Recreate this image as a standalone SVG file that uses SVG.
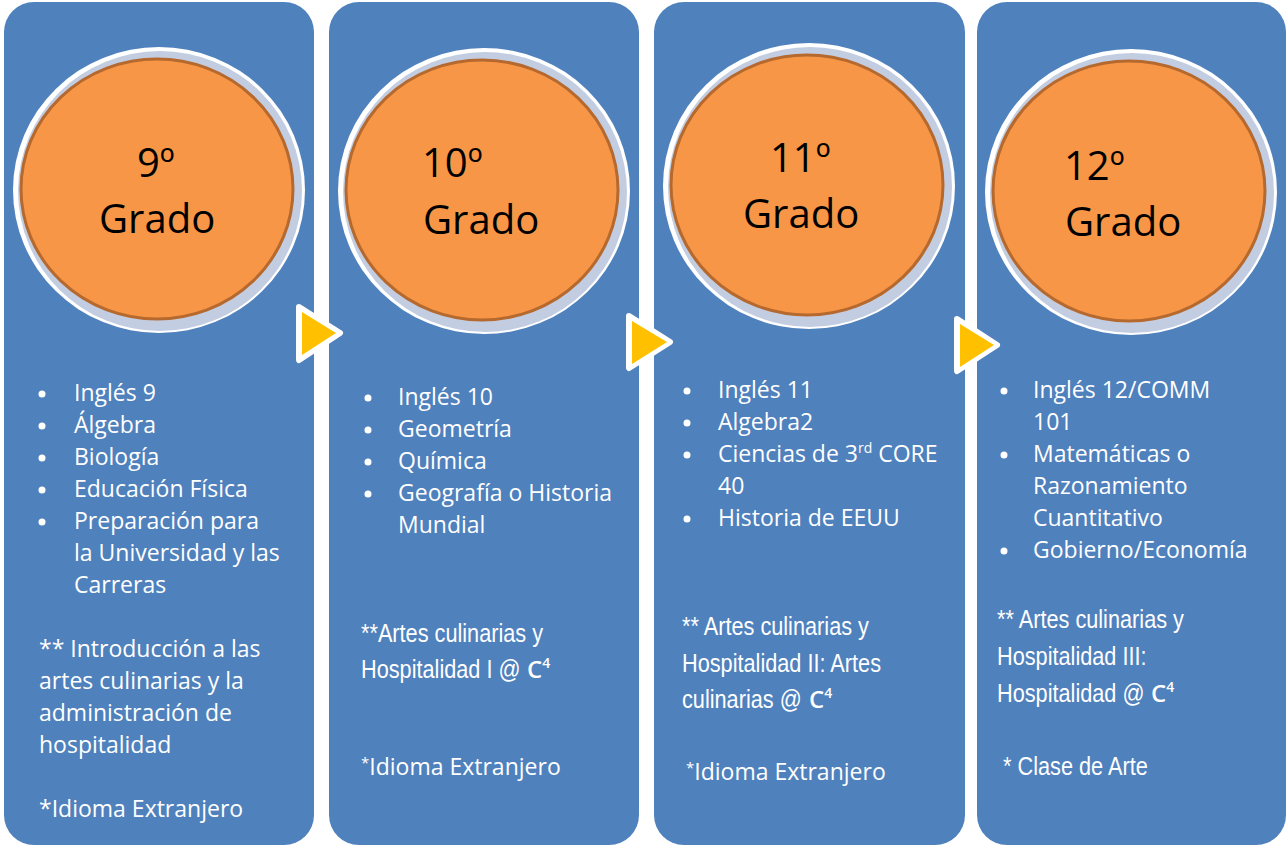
<svg xmlns="http://www.w3.org/2000/svg" width="1287" height="847" viewBox="0 0 1287 847">
<defs>
<style>
.panel{fill:#4f81bd}
.ring-w{fill:#ffffff}
.ring-g{fill:#c3cde1}
.orb{fill:#f79646;stroke:#b5692e;stroke-width:3}
.g{font-family:"Open Sans","DejaVu Sans",sans-serif;font-size:40px;fill:#000}
.b{font-family:"Open Sans","DejaVu Sans",sans-serif;font-size:23px;fill:#fff}
.n{font-family:"Liberation Sans",Arial,sans-serif;font-size:26px;fill:#fff}
.c4{font-family:"Open Sans","DejaVu Sans",sans-serif;font-weight:600;font-size:24px;fill:#fff}
.dot{fill:#fff}
.arr-o{fill:#fff;stroke:#fff;stroke-width:6;stroke-linejoin:round}
.arr{fill:#ffc000}
</style>
</defs>
<rect width="1287" height="847" fill="#ffffff"/>

<g id="panel1">
<rect class="panel" x="4" y="2" width="310" height="843" rx="30"/>
<g id="circle1" transform="translate(159,190)">
<ellipse class="ring-w" cx="0" cy="0" rx="146" ry="143"/>
<ellipse class="ring-g" cx="1" cy="1" rx="142" ry="140"/>
<ellipse class="orb" cx="-2" cy="-1" rx="136" ry="130"/>
</g>
<text class="g" x="137" y="177">9º</text>
<text class="g" x="99" y="233">Grado</text>
<circle class="dot" cx="42" cy="394" r="3.5"/>
<circle class="dot" cx="42" cy="426" r="3.5"/>
<circle class="dot" cx="42" cy="458" r="3.5"/>
<circle class="dot" cx="42" cy="490" r="3.5"/>
<circle class="dot" cx="42" cy="522" r="3.5"/>
<text class="b" x="74" y="401">Inglés 9</text>
<text class="b" x="74" y="433">Álgebra</text>
<text class="b" x="74" y="465">Biología</text>
<text class="b" x="74" y="497">Educación Física</text>
<text class="b" x="74" y="529">Preparación para</text>
<text class="b" x="74" y="561">la Universidad y las</text>
<text class="b" x="74" y="593">Carreras</text>
<text class="b" x="39" y="657">** Introducción a las</text>
<text class="b" x="39" y="689">artes culinarias y la</text>
<text class="b" x="39" y="721">administración de</text>
<text class="b" x="39" y="753">hospitalidad</text>
<text class="b" x="39" y="817">*Idioma Extranjero</text>
</g>

<g id="panel2">
<rect class="panel" x="329" y="2" width="310" height="843" rx="30"/>
<g id="circle2" transform="translate(484,191)">
<ellipse class="ring-w" cx="0" cy="0" rx="146" ry="143"/>
<ellipse class="ring-g" cx="1" cy="1" rx="142" ry="140"/>
<ellipse class="orb" cx="-2" cy="-1" rx="136" ry="130"/>
</g>
<text class="g" x="422" y="177">10º</text>
<text class="g" x="423" y="234">Grado</text>
<circle class="dot" cx="368" cy="398" r="3.5"/>
<circle class="dot" cx="368" cy="430" r="3.5"/>
<circle class="dot" cx="368" cy="462" r="3.5"/>
<circle class="dot" cx="368" cy="494" r="3.5"/>
<text class="b" x="398" y="405">Inglés 10</text>
<text class="b" x="398" y="437">Geometría</text>
<text class="b" x="398" y="469">Química</text>
<text class="b" x="398" y="501">Geografía o Historia</text>
<text class="b" x="398" y="533">Mundial</text>
<text class="n" transform="translate(361,642) scale(0.835,1)">**Artes culinarias y</text>
<text class="n" transform="translate(361,678) scale(0.835,1)">Hospitalidad I @</text>
<text class="c4" x="527" y="678">C<tspan font-size="14" dy="-10">4</tspan></text>
<text class="b" x="361" y="775"><tspan font-size="15" dy="-7">*</tspan><tspan dy="7">Idioma Extranjero</tspan></text>
</g>

<g id="panel3">
<rect class="panel" x="654" y="2" width="311" height="843" rx="30"/>
<g id="circle3" transform="translate(809,186)">
<ellipse class="ring-w" cx="0" cy="0" rx="146" ry="143"/>
<ellipse class="ring-g" cx="1" cy="1" rx="142" ry="140"/>
<ellipse class="orb" cx="-2" cy="-1" rx="136" ry="130"/>
</g>
<text class="g" x="770" y="172">11º</text>
<text class="g" x="743" y="228">Grado</text>
<circle class="dot" cx="687" cy="391" r="3.5"/>
<circle class="dot" cx="687" cy="423" r="3.5"/>
<circle class="dot" cx="687" cy="455" r="3.5"/>
<circle class="dot" cx="687" cy="519" r="3.5"/>
<text class="b" x="718" y="398">Inglés 11</text>
<text class="b" x="718" y="430">Algebra2</text>
<text class="b" x="718" y="462">Ciencias de 3<tspan font-size="14" dy="-9">rd</tspan><tspan dy="9"> CORE</tspan></text>
<text class="b" x="718" y="494">40</text>
<text class="b" x="718" y="526">Historia de EEUU</text>
<text class="n" transform="translate(682,635) scale(0.835,1)">** Artes culinarias y</text>
<text class="n" transform="translate(682,672) scale(0.835,1)">Hospitalidad II: Artes</text>
<text class="n" transform="translate(682,708) scale(0.835,1)">culinarias @</text>
<text class="c4" x="809" y="708">C<tspan font-size="14" dy="-10">4</tspan></text>
<text class="b" x="686" y="780"><tspan font-size="15" dy="-7">*</tspan><tspan dy="7">Idioma Extranjero</tspan></text>
</g>

<g id="panel4">
<rect class="panel" x="977" y="2" width="309" height="843" rx="30"/>
<g id="circle4" transform="translate(1131,192)">
<ellipse class="ring-w" cx="0" cy="0" rx="146" ry="143"/>
<ellipse class="ring-g" cx="1" cy="1" rx="142" ry="140"/>
<ellipse class="orb" cx="-2" cy="-1" rx="136" ry="130"/>
</g>
<text class="g" x="1064" y="180">12º</text>
<text class="g" x="1065" y="236">Grado</text>
<circle class="dot" cx="1004" cy="391" r="3.5"/>
<circle class="dot" cx="1004" cy="455" r="3.5"/>
<circle class="dot" cx="1004" cy="551" r="3.5"/>
<text class="b" x="1033" y="398">Inglés 12/COMM</text>
<text class="b" x="1033" y="430">101</text>
<text class="b" x="1033" y="462">Matemáticas o</text>
<text class="b" x="1033" y="494">Razonamiento</text>
<text class="b" x="1033" y="526">Cuantitativo</text>
<text class="b" x="1033" y="558">Gobierno/Economía</text>
<text class="n" transform="translate(997,628) scale(0.835,1)">** Artes culinarias y</text>
<text class="n" transform="translate(997,665) scale(0.835,1)">Hospitalidad III:</text>
<text class="n" transform="translate(997,702) scale(0.835,1)">Hospitalidad @</text>
<text class="c4" x="1151" y="702">C<tspan font-size="14" dy="-10">4</tspan></text>
<text class="n" transform="translate(1003,775) scale(0.835,1)">* Clase de Arte</text>
</g>

<g id="connectors">
<polygon class="arr-o" points="299,307 340,333 299,360"/>
<polygon class="arr" points="302,312 336,333 302,355"/>
<polygon class="arr-o" points="629,316 670,342 629,368"/>
<polygon class="arr" points="632,321 667,342 632,364"/>
<polygon class="arr-o" points="957,319 997,345 957,371"/>
<polygon class="arr" points="960,324 994,345 960,367"/>
</g>
</svg>
